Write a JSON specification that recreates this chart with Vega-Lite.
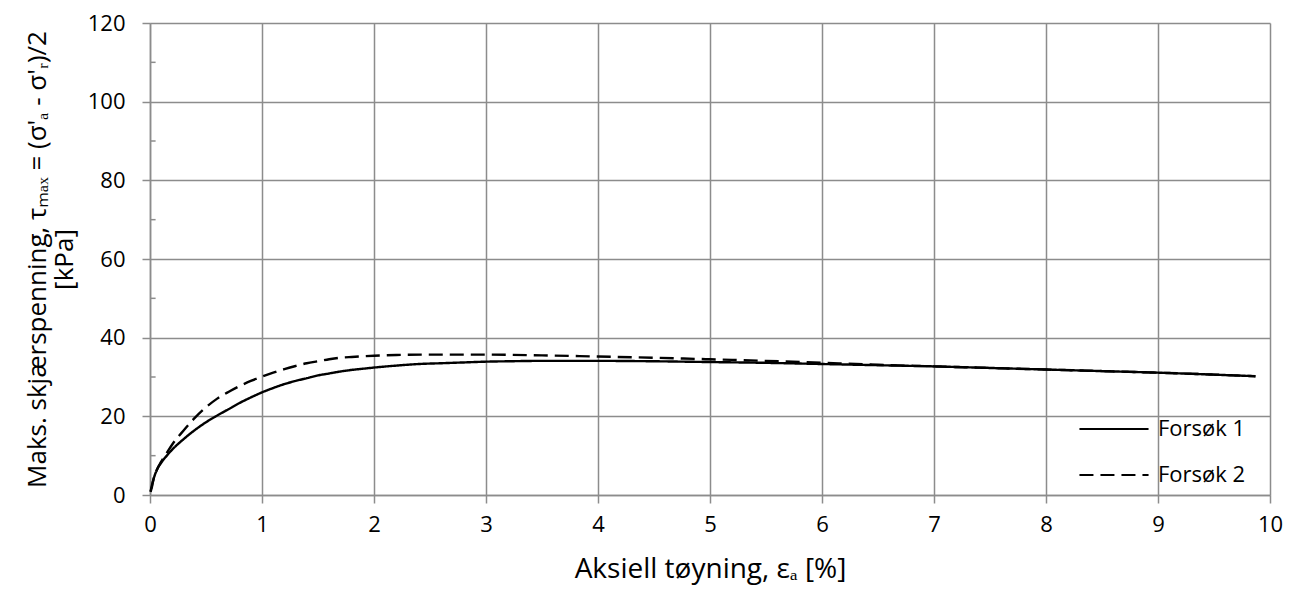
{
  "$schema": "https://vega.github.io/schema/vega-lite/v6.json",
  "width": 1120,
  "height": 472,
  "autosize": {"type": "none"},
  "padding": {"left": 150, "top": 23, "right": 25, "bottom": 102},
  "background": "white",
  "config": {
    "font": "Open Sans",
    "view": {"stroke": null},
    "axis": {
      "gridColor": "#8c8c8c",
      "gridWidth": 1.5,
      "gridOpacity": 1,
      "domainColor": "#8c8c8c",
      "domainWidth": 1.5,
      "tickColor": "#8c8c8c",
      "tickWidth": 1.5,
      "labelColor": "black",
      "labelFontSize": 22,
      "labelFlush": false,
      "titleColor": "black",
      "titleFontWeight": "normal",
      "titleFontSize": 28
    }
  },
  "datasets": {
    "curves": [
      {"test": "Forsøk 1", "strain": 0.005, "tau": 0.8},
      {"test": "Forsøk 1", "strain": 0.015, "tau": 1.8},
      {"test": "Forsøk 1", "strain": 0.03, "tau": 3.8},
      {"test": "Forsøk 1", "strain": 0.06, "tau": 6.3},
      {"test": "Forsøk 1", "strain": 0.1, "tau": 8.2},
      {"test": "Forsøk 1", "strain": 0.15, "tau": 10.0},
      {"test": "Forsøk 1", "strain": 0.2, "tau": 11.6},
      {"test": "Forsøk 1", "strain": 0.3, "tau": 14.2},
      {"test": "Forsøk 1", "strain": 0.4, "tau": 16.5},
      {"test": "Forsøk 1", "strain": 0.5, "tau": 18.5},
      {"test": "Forsøk 1", "strain": 0.6, "tau": 20.2},
      {"test": "Forsøk 1", "strain": 0.7, "tau": 21.8},
      {"test": "Forsøk 1", "strain": 0.8, "tau": 23.4},
      {"test": "Forsøk 1", "strain": 0.9, "tau": 24.8},
      {"test": "Forsøk 1", "strain": 1.0, "tau": 26.1},
      {"test": "Forsøk 1", "strain": 1.1, "tau": 27.2},
      {"test": "Forsøk 1", "strain": 1.2, "tau": 28.2},
      {"test": "Forsøk 1", "strain": 1.3, "tau": 29.0},
      {"test": "Forsøk 1", "strain": 1.4, "tau": 29.7},
      {"test": "Forsøk 1", "strain": 1.5, "tau": 30.4},
      {"test": "Forsøk 1", "strain": 1.6, "tau": 30.9},
      {"test": "Forsøk 1", "strain": 1.7, "tau": 31.4},
      {"test": "Forsøk 1", "strain": 1.8, "tau": 31.8},
      {"test": "Forsøk 1", "strain": 1.9, "tau": 32.1},
      {"test": "Forsøk 1", "strain": 2.0, "tau": 32.4},
      {"test": "Forsøk 1", "strain": 2.2, "tau": 32.9},
      {"test": "Forsøk 1", "strain": 2.4, "tau": 33.3},
      {"test": "Forsøk 1", "strain": 2.6, "tau": 33.5},
      {"test": "Forsøk 1", "strain": 2.8, "tau": 33.7},
      {"test": "Forsøk 1", "strain": 3.0, "tau": 33.9},
      {"test": "Forsøk 1", "strain": 3.2, "tau": 34.0},
      {"test": "Forsøk 1", "strain": 3.5, "tau": 34.1},
      {"test": "Forsøk 1", "strain": 4.0, "tau": 34.1},
      {"test": "Forsøk 1", "strain": 4.5, "tau": 34.0},
      {"test": "Forsøk 1", "strain": 5.0, "tau": 33.8},
      {"test": "Forsøk 1", "strain": 5.5, "tau": 33.6},
      {"test": "Forsøk 1", "strain": 6.0, "tau": 33.3},
      {"test": "Forsøk 1", "strain": 6.5, "tau": 33.0},
      {"test": "Forsøk 1", "strain": 7.0, "tau": 32.7},
      {"test": "Forsøk 1", "strain": 7.5, "tau": 32.3},
      {"test": "Forsøk 1", "strain": 8.0, "tau": 31.9},
      {"test": "Forsøk 1", "strain": 8.5, "tau": 31.5},
      {"test": "Forsøk 1", "strain": 9.0, "tau": 31.1},
      {"test": "Forsøk 1", "strain": 9.5, "tau": 30.6},
      {"test": "Forsøk 1", "strain": 9.87, "tau": 30.2},
      {"test": "Forsøk 2", "strain": 0.005, "tau": 0.9},
      {"test": "Forsøk 2", "strain": 0.015, "tau": 2.2},
      {"test": "Forsøk 2", "strain": 0.03, "tau": 3.9},
      {"test": "Forsøk 2", "strain": 0.06, "tau": 6.3},
      {"test": "Forsøk 2", "strain": 0.1, "tau": 8.5},
      {"test": "Forsøk 2", "strain": 0.15, "tau": 10.7},
      {"test": "Forsøk 2", "strain": 0.2, "tau": 12.9},
      {"test": "Forsøk 2", "strain": 0.3, "tau": 16.4},
      {"test": "Forsøk 2", "strain": 0.4, "tau": 19.6},
      {"test": "Forsøk 2", "strain": 0.5, "tau": 22.3},
      {"test": "Forsøk 2", "strain": 0.6, "tau": 24.5},
      {"test": "Forsøk 2", "strain": 0.7, "tau": 26.2},
      {"test": "Forsøk 2", "strain": 0.8, "tau": 27.7},
      {"test": "Forsøk 2", "strain": 0.9, "tau": 29.0},
      {"test": "Forsøk 2", "strain": 1.0, "tau": 30.1},
      {"test": "Forsøk 2", "strain": 1.1, "tau": 31.1},
      {"test": "Forsøk 2", "strain": 1.2, "tau": 32.0},
      {"test": "Forsøk 2", "strain": 1.3, "tau": 32.8},
      {"test": "Forsøk 2", "strain": 1.4, "tau": 33.5},
      {"test": "Forsøk 2", "strain": 1.5, "tau": 34.0},
      {"test": "Forsøk 2", "strain": 1.6, "tau": 34.5},
      {"test": "Forsøk 2", "strain": 1.7, "tau": 34.9},
      {"test": "Forsøk 2", "strain": 1.8, "tau": 35.1},
      {"test": "Forsøk 2", "strain": 2.0, "tau": 35.4},
      {"test": "Forsøk 2", "strain": 2.2, "tau": 35.6},
      {"test": "Forsøk 2", "strain": 2.5, "tau": 35.7},
      {"test": "Forsøk 2", "strain": 3.0, "tau": 35.7},
      {"test": "Forsøk 2", "strain": 3.5, "tau": 35.5},
      {"test": "Forsøk 2", "strain": 4.0, "tau": 35.2},
      {"test": "Forsøk 2", "strain": 4.5, "tau": 34.9},
      {"test": "Forsøk 2", "strain": 5.0, "tau": 34.5},
      {"test": "Forsøk 2", "strain": 5.5, "tau": 34.1},
      {"test": "Forsøk 2", "strain": 6.0, "tau": 33.6},
      {"test": "Forsøk 2", "strain": 6.5, "tau": 33.1},
      {"test": "Forsøk 2", "strain": 7.0, "tau": 32.7},
      {"test": "Forsøk 2", "strain": 7.5, "tau": 32.3},
      {"test": "Forsøk 2", "strain": 8.0, "tau": 31.9},
      {"test": "Forsøk 2", "strain": 8.5, "tau": 31.5},
      {"test": "Forsøk 2", "strain": 9.0, "tau": 31.1},
      {"test": "Forsøk 2", "strain": 9.5, "tau": 30.6},
      {"test": "Forsøk 2", "strain": 9.87, "tau": 30.2}
    ],
    "minorTicks": [
      {"tick": 10}, {"tick": 30}, {"tick": 50}, {"tick": 70}, {"tick": 90}, {"tick": 110}
    ]
  },
  "layer": [
    {
      "data": {"name": "curves"},
      "mark": {"type": "line", "color": "black", "strokeWidth": 2.4, "interpolate": "monotone"},
      "encoding": {
        "x": {
          "field": "strain",
          "type": "quantitative",
          "scale": {"domain": [0, 10], "nice": false, "zero": true},
          "axis": {
            "values": [0, 1, 2, 3, 4, 5, 6, 7, 8, 9, 10],
            "format": "d",
            "grid": true,
            "tickSize": 8,
            "labelPadding": 11,
            "title": "Aksiell tøyning, εₐ [%]",
            "titleY": 82,
            "titleBaseline": "alphabetic"
          }
        },
        "y": {
          "field": "tau",
          "type": "quantitative",
          "scale": {"domain": [0, 120], "nice": false},
          "axis": {
            "values": [0, 20, 40, 60, 80, 100, 120],
            "format": "d",
            "grid": true,
            "tickSize": 8,
            "labelPadding": 17,
            "title": ["Maks. skjærspenning, τₘₐₓ = (σ'ₐ - σ'ᵣ)/2", "[kPa]"],
            "titleFontSize": 26,
            "titleAngle": -90,
            "titleAlign": "center",
            "titleBaseline": "alphabetic",
            "titleX": -105,
            "titleY": 236,
            "titleLineHeight": 27
          }
        },
        "strokeDash": {
          "field": "test",
          "type": "nominal",
          "scale": {"domain": ["Forsøk 1", "Forsøk 2"], "range": [[1, 0], [14, 7]]},
          "legend": {
            "orient": "none",
            "legendX": 939,
            "legendY": 381,
            "title": null,
            "symbolType": "M-1.47,0H1.47",
            "symbolSize": 2209,
            "symbolStrokeWidth": 2.2,
            "symbolStrokeColor": "black",
            "symbolFillColor": "transparent",
            "labelFontSize": 22,
            "labelColor": "black",
            "labelOffset": 19,
            "rowPadding": 10,
            "padding": 0
          }
        }
      }
    },
    {
      "data": {"name": "minorTicks"},
      "mark": {"type": "rule", "color": "#8c8c8c", "strokeWidth": 1.5},
      "encoding": {
        "y": {"field": "tick", "type": "quantitative"},
        "x": {"datum": 0},
        "x2": {"datum": 0.05}
      }
    }
  ]
}
